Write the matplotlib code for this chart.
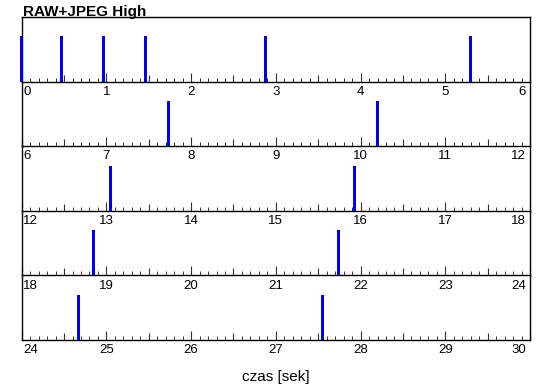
import numpy as np
import matplotlib
matplotlib.use("Agg")
import matplotlib.pyplot as plt
from matplotlib.transforms import ScaledTranslation

plt.rcParams['font.family'] = ['Liberation Sans', 'DejaVu Sans']

# momenty zdjęć (sekundy)
czasy = [0.0, 0.47, 0.97, 1.46, 2.88, 5.30, 7.73, 10.20, 13.05, 15.93,
         18.85, 21.74, 24.67, 27.55]
wysokosc = 0.7
tytul = 'RAW+JPEG High'
podpis_osi = 'czas [sek]'
dlugosc_panelu = 6
liczba_paneli = 5

fig = plt.figure(figsize=(5.5, 3.89), dpi=100)
lewo, prawo = 21.7 / 550, 530 / 550
gora, dol = 1 - 17 / 389, 1 - 340 / 389
h = (gora - dol) / liczba_paneli

px = 0.72  # 1 px w punktach
kolor_tick = '#333333'
for i in range(liczba_paneli):
    ax = fig.add_axes([lewo, gora - (i + 1) * h, prawo - lewo, h])
    ax.patch.set_visible(False)
    start = i * dlugosc_panelu
    koniec = start + dlugosc_panelu
    x = [t for t in czasy if start <= t < koniec]
    ax.bar(x, [wysokosc] * len(x), width=0.035, color='#0000ee',
           align='center', zorder=3, clip_on=False)
    ax.set_xlim(start, koniec)
    ax.set_ylim(0, 1)
    ax.set_yticks([])

    major = list(range(start, koniec + 1))
    ax.set_xticks(major)
    ax.set_xticklabels([str(m) for m in major])
    minor = np.round(np.arange(start, koniec + 0.001, 0.1), 1)
    ax.set_xticks(minor, minor=True)
    ax.tick_params(axis='x', which='major', direction='in', length=9.5 * px,
                   width=0.8, color=kolor_tick, labelsize=9.5, pad=3)
    ax.tick_params(axis='x', which='minor', direction='in', length=4 * px,
                   width=0.7, color=kolor_tick)

    # ticki połówkowe
    sec = ax.secondary_xaxis('bottom')
    sec.set_xticks(np.arange(start + 0.5, koniec, 1.0))
    sec.tick_params(axis='x', direction='in', length=7.5 * px, width=0.8,
                    color=kolor_tick, labelbottom=False)
    sec.spines['bottom'].set_visible(False)

    labels = ax.get_xticklabels()
    labels[0].set_horizontalalignment('left')
    labels[0].set_transform(labels[0].get_transform() +
                            ScaledTranslation(1.5 / 100, 0, fig.dpi_scale_trans))
    labels[-1].set_horizontalalignment('right')
    labels[-1].set_transform(labels[-1].get_transform() +
                             ScaledTranslation(-4 / 100, 0, fig.dpi_scale_trans))

    for s in ['left', 'right', 'bottom']:
        ax.spines[s].set_linewidth(1.0)
    ax.spines['top'].set_visible(i == 0)
    ax.spines['top'].set_linewidth(1.0)

fig.text(22.7 / 550, 1 - 15.7 / 389, tytul, fontsize=11, fontweight='bold',
         ha='left', va='baseline')
fig.text(276 / 550, 1 - 381 / 389, podpis_osi, fontsize=11,
         ha='center', va='baseline')

fig.savefig('out.png', dpi=100)
